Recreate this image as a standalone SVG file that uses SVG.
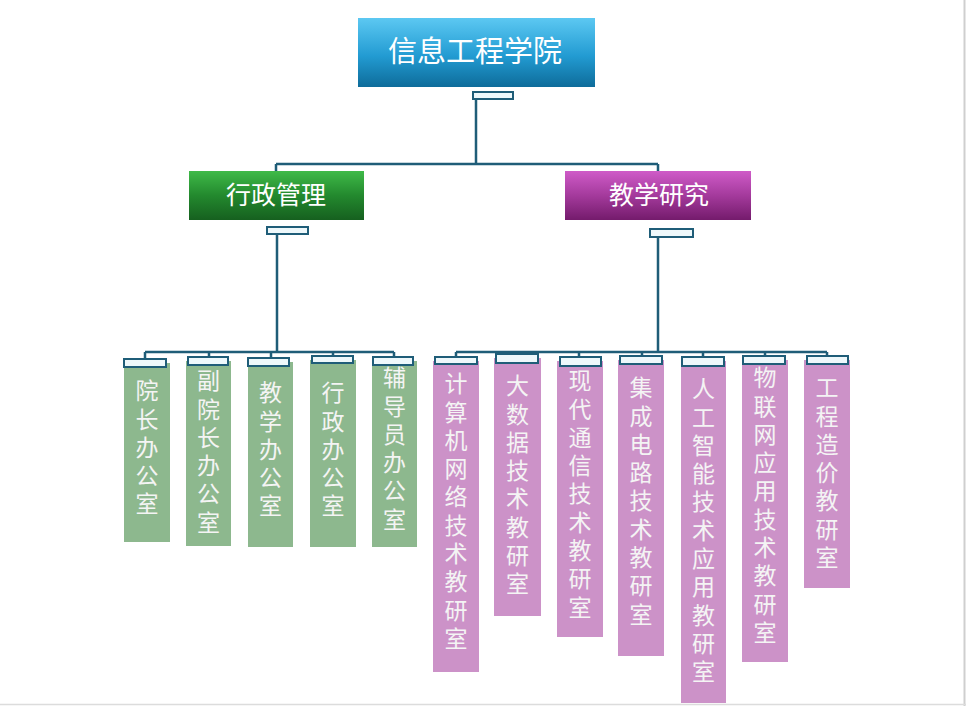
<svg xmlns="http://www.w3.org/2000/svg" width="966" height="706" viewBox="0 0 966 706">
<defs>
<linearGradient id="gBlue" x1="0" y1="0" x2="0" y2="1">
<stop offset="0" stop-color="#5cc8f2"/>
<stop offset="0.55" stop-color="#229bd2"/>
<stop offset="1" stop-color="#0e6c9a"/>
</linearGradient>
<linearGradient id="gGreen" x1="0" y1="0" x2="0" y2="1">
<stop offset="0" stop-color="#3fba48"/>
<stop offset="0.5" stop-color="#23892e"/>
<stop offset="1" stop-color="#16601f"/>
</linearGradient>
<linearGradient id="gPurple" x1="0" y1="0" x2="0" y2="1">
<stop offset="0" stop-color="#cf5bc8"/>
<stop offset="0.5" stop-color="#a43a9c"/>
<stop offset="1" stop-color="#741b6c"/>
</linearGradient>
</defs>
<style>
.ln{fill:none;stroke:#1f5d78;stroke-width:2.5}
.tab{fill:#eef8fb;stroke:#1f5d78;stroke-width:2}
.t{font-family:"Noto Sans CJK SC","Noto Sans",sans-serif;fill:#ffffff;text-anchor:middle}
.big{font-size:29px}
.mid{font-size:25px}
.v{font-family:"Noto Sans CJK SC","Noto Sans",sans-serif;font-size:23px;fill:#f4f4f4;writing-mode:vertical-rl;text-orientation:upright;letter-spacing:5.3px}
.gbox{fill:#8db88e}
.pbox{fill:#cc92c8}
</style>
<rect width="966" height="706" fill="#ffffff"/>
<line x1="964.5" y1="0" x2="964.5" y2="706" stroke="#cfcfcf" stroke-width="2"/>
<line x1="0" y1="704.5" x2="966" y2="704.5" stroke="#dcdcdc" stroke-width="1.5"/>

<g id="connectors">
<path class="ln" d="M476,99 V164 M276,164 H658 M276,164 V171 M658,164 V171"/>
<path class="ln" d="M277,234 V352 M145,352 H394 M145,352 V359 M209,352 V357 M271,352 V358 M333,352 V356 M394,352 V357"/>
<path class="ln" d="M658,237 V352 M456,352 H827 M456,352 V357 M518,352 V354 M579,352 V357 M642,352 V356 M703,352 V357 M765,352 V356 M827,352 V356"/>
</g>

<g id="root">
<rect x="358" y="18" width="237" height="69" fill="url(#gBlue)"/>
<text class="t big" x="475" y="62">信息工程学院</text>
<rect class="tab" x="473" y="92" width="40" height="7"/>
</g>

<g id="admin">
<rect x="189" y="171" width="175" height="49" fill="url(#gGreen)"/>
<text class="t mid" x="276" y="204">行政管理</text>
<rect class="tab" x="267" y="227" width="41" height="7"/>
</g>

<g id="teach">
<rect x="565" y="171" width="186" height="49" fill="url(#gPurple)"/>
<text class="t mid" x="659" y="204">教学研究</text>
<rect class="tab" x="650" y="229" width="43" height="8"/>
</g>

<g id="g1">
<rect class="gbox" x="124" y="363" width="46" height="179"/>
<rect class="tab" x="124" y="359" width="42" height="8"/>
<text class="v" x="147" y="379">院长办公室</text>
</g>
<g id="g2">
<rect class="gbox" x="186" y="361" width="45" height="185"/>
<rect class="tab" x="188" y="357" width="40" height="8"/>
<text class="v" x="208.5" y="369">副院长办公室</text>
</g>
<g id="g3">
<rect class="gbox" x="248" y="362" width="45" height="185"/>
<rect class="tab" x="248" y="358" width="41" height="8"/>
<text class="v" x="270.5" y="381">教学办公室</text>
</g>
<g id="g4">
<rect class="gbox" x="310" y="360" width="46" height="187"/>
<rect class="tab" x="312" y="356" width="41" height="7"/>
<text class="v" x="333" y="381">行政办公室</text>
</g>
<g id="g5">
<rect class="gbox" x="372" y="361" width="45" height="186"/>
<rect class="tab" x="373" y="357" width="40" height="8"/>
<text class="v" x="394.5" y="366">辅导员办公室</text>
</g>

<g id="p1">
<rect class="pbox" x="433" y="361" width="46" height="311"/>
<rect class="tab" x="435" y="357" width="42" height="7"/>
<text class="v" x="456" y="372">计算机网络技术教研室</text>
</g>
<g id="p2">
<rect class="pbox" x="494" y="358" width="47" height="258"/>
<rect class="tab" x="496" y="354" width="42" height="9"/>
<text class="v" x="517.5" y="374">大数据技术教研室</text>
</g>
<g id="p3">
<rect class="pbox" x="557" y="361" width="46" height="276"/>
<rect class="tab" x="560" y="357" width="41" height="9"/>
<text class="v" x="580" y="369">现代通信技术教研室</text>
</g>
<g id="p4">
<rect class="pbox" x="618" y="360" width="46" height="296"/>
<rect class="tab" x="620" y="356" width="42" height="8"/>
<text class="v" x="641" y="376">集成电路技术教研室</text>
</g>
<g id="p5">
<rect class="pbox" x="681" y="361" width="45" height="342"/>
<rect class="tab" x="682" y="357" width="42" height="9"/>
<text class="v" x="703.5" y="377">人工智能技术应用教研室</text>
</g>
<g id="p6">
<rect class="pbox" x="742" y="360" width="46" height="302"/>
<rect class="tab" x="743" y="356" width="42" height="8"/>
<text class="v" x="765" y="366">物联网应用技术教研室</text>
</g>
<g id="p7">
<rect class="pbox" x="804" y="360" width="46" height="228"/>
<rect class="tab" x="807" y="356" width="41" height="8"/>
<text class="v" x="827" y="376">工程造价教研室</text>
</g>
</svg>
